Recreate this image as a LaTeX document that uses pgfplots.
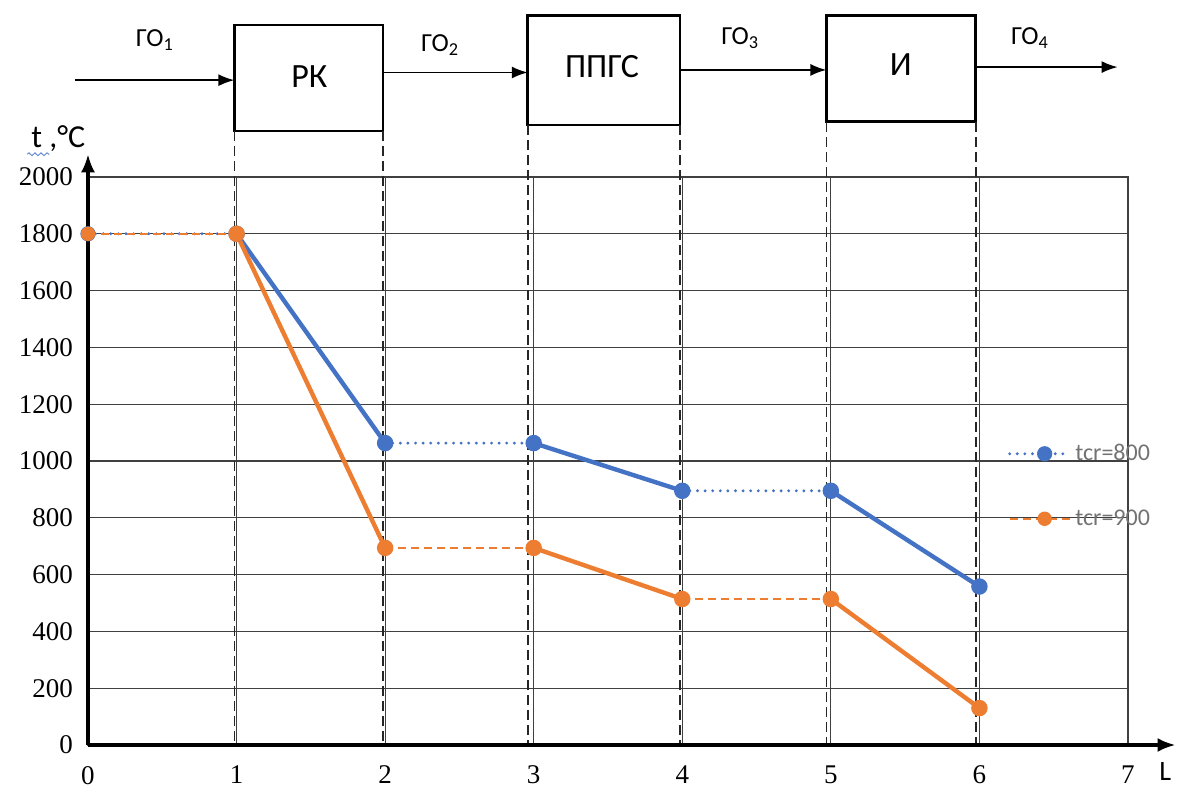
\documentclass[border=0pt]{standalone}
\usepackage{pgfplots}
\pgfplotsset{compat=1.18}
\usepackage{fontspec}
\setmainfont{Liberation Serif}
\newfontfamily\calf{Carlito}
\usetikzlibrary{arrows.meta,decorations.pathmorphing}
\definecolor{cblue}{HTML}{4472C4}
\definecolor{corange}{HTML}{ED7D31}
\begin{document}
\begin{tikzpicture}
\begin{axis}[
 at={(0pt,0pt)}, anchor=south west,
 scale only axis, width=520pt, height=284pt,
 xmin=0, xmax=7, ymin=0, ymax=2000,
 xtick={0,...,7}, ytick={0,200,...,2000},
 major tick length=0pt,
 grid=major, grid style={black!75, line width=0.6pt},
 axis line style={black!75, line width=0.6pt},
 clip=false,
 tick label style={font=\fontsize{13.5}{15}\selectfont},
 /pgf/number format/assume math mode=true,
 /pgf/number format/1000 sep={},
 xticklabel style={yshift=-7pt},
 yticklabel style={xshift=-4pt},
 unbounded coords=jump,
 legend style={at={(axis cs:6.19,1075)}, anchor=north west, draw=none, fill=none,
   inner sep=0pt, row sep=19pt, font=\calf\fontsize{12}{13}\selectfont, text=black!55},
 legend cell align=left,
 legend image code/.code={\draw[mark repeat=2,mark phase=2] plot coordinates {(0pt,0pt)(17.5pt,0pt)(30pt,0pt)};},
]
% boxes and arrows
\draw[line width=1.4pt] (axis cs:0.985,2162) rectangle (axis cs:1.985,2535);
\node[font=\calf\fontsize{17}{19}\selectfont] at (axis cs:1.49,2355) {РК};
\draw[line width=1.4pt] (axis cs:2.96,2183) rectangle (axis cs:3.985,2570);
\node[font=\calf\fontsize{17}{19}\selectfont] at (axis cs:3.46,2390) {ППГС};
\draw[line width=1.4pt] (axis cs:4.97,2194) rectangle (axis cs:5.975,2570);
\node[font=\calf\fontsize{17}{19}\selectfont] at (axis cs:5.47,2395) {И};
\draw[black!85, line width=0.8pt, dash pattern=on 5pt off 2.5pt] (axis cs:0.985,2162) -- (axis cs:0.985,0);
\draw[black!85, line width=0.8pt, dash pattern=on 5pt off 2.5pt] (axis cs:1.985,2162) -- (axis cs:1.985,0);
\draw[black!85, line width=0.8pt, dash pattern=on 5pt off 2.5pt] (axis cs:2.96,2183) -- (axis cs:2.96,0);
\draw[black!85, line width=0.8pt, dash pattern=on 5pt off 2.5pt] (axis cs:3.985,2183) -- (axis cs:3.985,0);
\draw[black!85, line width=0.8pt, dash pattern=on 5pt off 2.5pt] (axis cs:4.97,2194) -- (axis cs:4.97,0);
\draw[black!85, line width=1.1pt, dash pattern=on 5pt off 2.5pt] (axis cs:5.975,2194) -- (axis cs:5.975,0);
\draw[line width=0.8pt,-{Latex[length=8pt,width=6pt]}] (axis cs:-0.09,2341) -- (axis cs:0.985,2341);
\draw[line width=0.8pt,-{Latex[length=8pt,width=6pt]}] (axis cs:1.985,2368) -- (axis cs:2.96,2368);
\draw[line width=0.8pt,-{Latex[length=8pt,width=6pt]}] (axis cs:3.985,2377) -- (axis cs:4.97,2377);
\draw[line width=0.8pt,-{Latex[length=8pt,width=6pt]}] (axis cs:5.975,2387) -- (axis cs:6.93,2387);
\node[font=\calf\fontsize{13}{15}\selectfont] at (axis cs:0.45,2482) {ГО\textsubscript{1}};
\node[font=\calf\fontsize{13}{15}\selectfont] at (axis cs:2.37,2465) {ГО\textsubscript{2}};
\node[font=\calf\fontsize{13}{15}\selectfont] at (axis cs:4.39,2490) {ГО\textsubscript{3}};
\node[font=\calf\fontsize{13}{15}\selectfont] at (axis cs:6.34,2490) {ГО\textsubscript{4}};
% axis label
\node[font=\calf\fontsize{16}{18}\selectfont] at (axis cs:-0.2,2135) {t ,°C};
\draw[cblue!80, line width=0.5pt, decorate, decoration={snake, amplitude=0.7pt, segment length=3pt}] (axis cs:-0.41,2080) -- (axis cs:-0.26,2080);
\node[font=\calf\fontsize{14}{16}\selectfont] at (axis cs:7.25,-95) {L};
% data
\addplot[cblue, line width=1.6pt, line cap=round, dash pattern=on 0pt off 3.8pt, mark=*, mark size=3pt, mark options={solid}]
 coordinates {(0,1800)(1,1800) (1.5,nan) (2,1063)(3,1063) (3.5,nan) (4,895)(5,895)};
\addlegendentry{tcr=800}
\addplot[corange, line width=1.2pt, dash pattern=on 4pt off 2.5pt, mark=*, mark size=3pt, mark options={solid}]
 coordinates {(0,1800)(1,1800) (1.5,nan) (2,694)(3,694) (3.5,nan) (4,514)(5,514)};
\addlegendentry{tcr=900}
\addplot[cblue, line width=2.2pt, mark=*, mark size=3pt, forget plot]
 coordinates {(1,1800)(2,1063) (2.5,nan) (3,1063)(4,895) (4.5,nan) (5,895)(6,558)};
\addplot[corange, line width=2.2pt, mark=*, mark size=3pt, forget plot]
 coordinates {(1,1800)(2,694) (2.5,nan) (3,694)(4,514) (4.5,nan) (5,514)(6,130)};
% axes
\draw[line width=1.6pt,-{Latex[length=9pt,width=7pt]}] (axis cs:0,0) -- (axis cs:7.32,0);
\draw[line width=1.6pt,-{Latex[length=9pt,width=7pt]}] (axis cs:0,0) -- (axis cs:0,2080);
\end{axis}
\pgfresetboundingbox
\path (-44pt,-21pt) rectangle (544.5pt,372.5pt);
\end{tikzpicture}
\end{document}
